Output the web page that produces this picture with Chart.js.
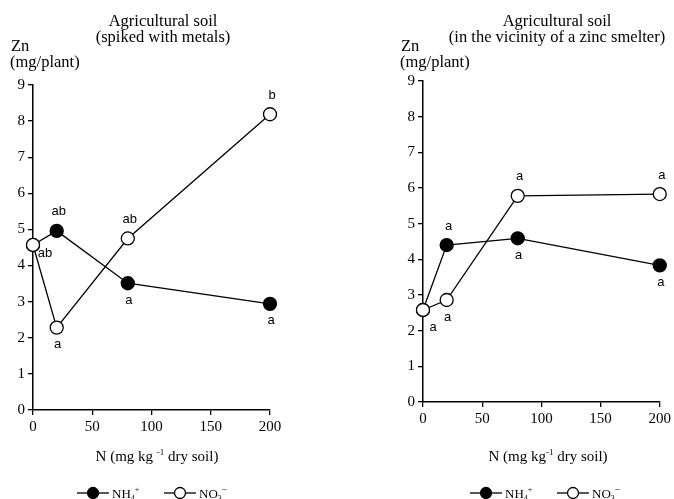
<!DOCTYPE html>
<html>
<head>
<meta charset="utf-8">
<script src="https://cdn.jsdelivr.net/npm/chart.js@4.4.1/dist/chart.umd.min.js"></script>
<style>
  html, body { margin: 0; padding: 0; background: #fff; }
  .box { position: absolute; top: 0; width: 337px; height: 499px; }
</style>
</head>
<body>
<div class="box" style="left:0"><canvas id="chartLeft"></canvas></div>
<div class="box" style="left:337px"><canvas id="chartRight"></canvas></div>
<script>
// N doses (mg kg-1 dry soil)
var nDoses = [0, 20, 80, 200];

// spiked soil, Zn mg/plant
var spikedNH4 = [4.57, 4.96, 3.51, 2.94];
var spikedNO3 = [4.57, 2.28, 4.75, 8.19];
var spikedNH4Letters = ['', 'ab', 'a', 'a'];
var spikedNO3Letters = ['ab', 'a', 'ab', 'b'];

// soil near the zinc smelter
var smelterNH4 = [2.58, 4.40, 4.59, 3.83];
var smelterNO3 = [2.58, 2.86, 5.78, 5.83];
var smelterNH4Letters = ['', 'a', 'a', 'a'];
var smelterNO3Letters = ['a', 'a', 'a', 'a'];

// where the letters go relative to their point
var sideOffsets = {
  above: [2, -19],
  below: [1, 17],
  right: [12, 8],
  br: [10, 17]
};

var serif = '"Liberation Serif", "Times New Roman", serif';
var sans = '"Liberation Sans", Arial, sans-serif';

function toPoints(ys) {
  return nDoses.map(function (x, i) { return { x: x, y: ys[i] }; });
}

// draws a row of text pieces (for sub/superscripts), centred or from the left
function drawPieces(ctx, pieces, x, y, align) {
  var total = 0;
  pieces.forEach(function (p) {
    ctx.font = p.size + 'px ' + serif;
    p.w = ctx.measureText(p.t).width;
    total += p.w;
  });
  var cx = align === 'center' ? x - total / 2 : x;
  ctx.textAlign = 'left';
  ctx.textBaseline = 'alphabetic';
  pieces.forEach(function (p) {
    ctx.font = p.size + 'px ' + serif;
    ctx.fillText(p.t, cx, y + (p.dy || 0));
    cx += p.w;
  });
}

function legendItem(ctx, x, y, filled, pieces) {
  ctx.save();
  ctx.strokeStyle = '#000';
  ctx.lineWidth = 1.3;
  ctx.beginPath();
  ctx.moveTo(x, y);
  ctx.lineTo(x + 32, y);
  ctx.stroke();
  ctx.beginPath();
  ctx.arc(x + 16, y, 5.5, 0, Math.PI * 2);
  ctx.fillStyle = filled ? '#000' : '#fff';
  ctx.fill();
  ctx.stroke();
  ctx.fillStyle = '#000';
  drawPieces(ctx, pieces, x + 35, y + 5, 'left');
  ctx.restore();
}

function makeChart(id, opt) {
  var decor = {
    id: 'decor',
    afterDatasetsDraw: function (chart) {
      var ctx = chart.ctx;
      var xs = chart.scales.x, ys = chart.scales.y;
      var area = chart.chartArea;
      ctx.save();
      ctx.fillStyle = '#000';

      // letters of the statistical groups
      ctx.font = '13px ' + sans;
      ctx.textAlign = 'center';
      ctx.textBaseline = 'middle';
      [[opt.nh4, opt.nh4Letters, opt.nh4Side], [opt.no3, opt.no3Letters, opt.no3Side]].forEach(function (s) {
        s[1].forEach(function (txt, i) {
          if (!txt) return;
          var off = sideOffsets[s[2][i]];
          ctx.fillText(txt, xs.getPixelForValue(nDoses[i]) + off[0], ys.getPixelForValue(s[0][i]) + off[1]);
        });
      });

      // title
      ctx.font = '16.5px ' + serif;
      ctx.textAlign = 'center';
      ctx.textBaseline = 'alphabetic';
      ctx.fillText(opt.title[0], opt.titleX, 26);
      ctx.fillText(opt.title[1], opt.titleX, 42);

      // y axis name
      ctx.textAlign = 'left';
      ctx.fillText('Zn', area.left - 22, 51);
      ctx.fillText('(mg/plant)', area.left - 23, 67);

      // x axis name
      drawPieces(ctx, [
        { t: opt.xTitle[0], size: 15 },
        { t: '-1', size: 9, dy: -6 },
        { t: opt.xTitle[1], size: 15 }
      ], opt.xTitleX, 461, 'center');

      // legend
      legendItem(ctx, opt.legendX, 493, true, [
        { t: 'NH', size: 13 }, { t: '4', size: 8, dy: 3 }, { t: '+', size: 8, dy: -6 }
      ]);
      legendItem(ctx, opt.legendX + 87, 493, false, [
        { t: 'NO', size: 13 }, { t: '3', size: 8, dy: 3 }, { t: '\u2212', size: 10, dy: -5 }
      ]);
      ctx.restore();
    }
  };

  return new Chart(document.getElementById(id), {
    type: 'scatter',
    data: {
      datasets: [{
        label: 'NO3-',
        data: toPoints(opt.no3),
        showLine: true,
        borderColor: '#000',
        borderWidth: 1.3,
        pointBackgroundColor: '#fff',
        pointBorderColor: '#000',
        pointBorderWidth: 1.3,
        pointRadius: 6.5,
        clip: false
      }, {
        label: 'NH4+',
        data: toPoints(opt.nh4),
        showLine: true,
        borderColor: '#000',
        borderWidth: 1.3,
        pointBackgroundColor: '#000',
        pointBorderColor: '#000',
        pointBorderWidth: 1.3,
        pointRadius: 6.5,
        clip: false
      }]
    },
    options: {
      responsive: true,
      maintainAspectRatio: false,
      animation: false,
      layout: { padding: opt.padding },
      plugins: { legend: { display: false }, tooltip: { enabled: false } },
      scales: {
        x: {
          type: 'linear',
          min: 0,
          max: 200,
          afterFit: function (s) { s.height = 30; },
          ticks: { stepSize: 50, color: '#000', padding: 3, maxRotation: 0, font: { family: serif, size: 15 } },
          grid: { drawOnChartArea: false, color: '#000', tickLength: 5, lineWidth: 1.3 },
          border: { color: '#000', width: 1.5 }
        },
        y: {
          min: 0,
          max: 9,
          afterFit: function (s) { s.width = 33; },
          ticks: { stepSize: 1, color: '#000', padding: 3, font: { family: serif, size: 15 } },
          grid: { drawOnChartArea: false, color: '#000', tickLength: 5, lineWidth: 1.3 },
          border: { color: '#000', width: 1.5 }
        }
      }
    },
    plugins: [decor]
  });
}

makeChart('chartLeft', {
  nh4: spikedNH4, no3: spikedNO3,
  nh4Letters: spikedNH4Letters, no3Letters: spikedNO3Letters,
  nh4Side: ['', 'above', 'below', 'below'],
  no3Side: ['right', 'below', 'above', 'above'],
  title: ['Agricultural soil', '(spiked with metals)'],
  titleX: 163,
  xTitle: ['N (mg kg ', ' dry soil)'],
  xTitleX: 157,
  legendX: 77,
  padding: { left: 0, right: 67, top: 85, bottom: 59 }
});

makeChart('chartRight', {
  nh4: smelterNH4, no3: smelterNO3,
  nh4Letters: smelterNH4Letters, no3Letters: smelterNO3Letters,
  nh4Side: ['', 'above', 'below', 'below'],
  no3Side: ['br', 'below', 'above', 'above'],
  title: ['Agricultural soil', '(in the vicinity of a zinc smelter)'],
  titleX: 220,
  xTitle: ['N (mg kg', ' dry soil)'],
  xTitleX: 211,
  legendX: 133,
  padding: { left: 53, right: 14, top: 81, bottom: 67 }
});
</script>
</body>
</html>
